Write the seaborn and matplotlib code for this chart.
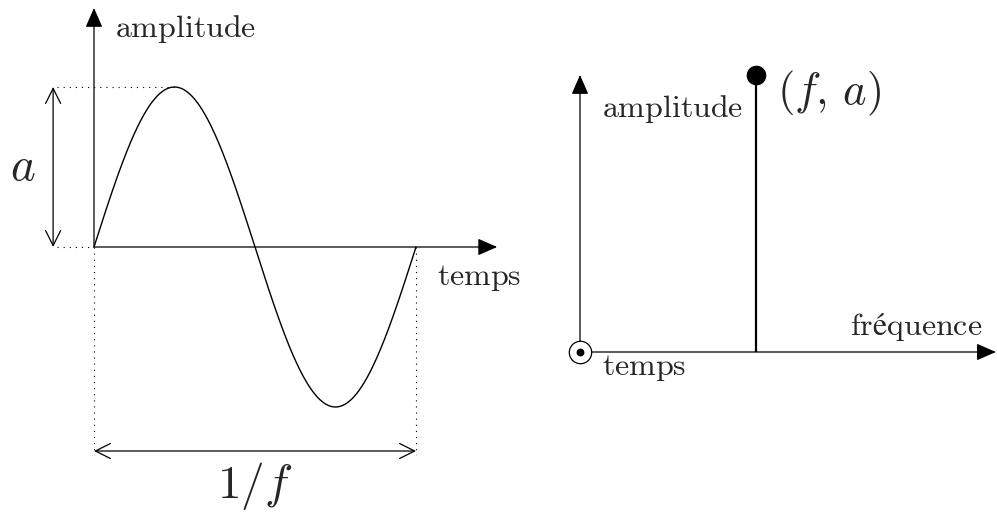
import numpy as np
import matplotlib
matplotlib.use("Agg")
import matplotlib.pyplot as plt
import seaborn as sns

sns.set_style("white")
plt.rcParams["mathtext.fontset"] = "cm"

# Signal parameters
AMPLITUDE = 1.0
FREQUENCY = 1.0
PERIOD = 1.0 / FREQUENCY

# Labels
TIME_LABEL = r"$\mathrm{temps}$"
AMP_LABEL = r"$\mathrm{amplitude}$"
FREQ_LABEL = r"$\mathrm{fréquence}$"
A_LABEL = r"$a$"
PERIOD_LABEL = r"$1/f$"
POINT_LABEL = r"$(f,\,a)$"

W, H, DPI = 997, 515, 100
fig = plt.figure(figsize=(W / DPI, H / DPI), dpi=DPI)


def panel_axes(px_left, px_right, origin, sx, sy):
    """Axes spanning a vertical strip of the figure, with data origin at a pixel position."""
    ox, oy = origin
    ax = fig.add_axes([px_left / W, 0, (px_right - px_left) / W, 1])
    ax.set_xlim((px_left - ox) / sx, (px_right - ox) / sx)
    ax.set_ylim(-(H - oy) / sy, oy / sy)
    ax.set_axis_off()
    return ax


def axis_arrow(ax, start, end, lw=0.9):
    ax.annotate("", xy=end, xytext=start,
                arrowprops=dict(arrowstyle="-|>,head_length=0.8,head_width=0.35",
                                mutation_scale=15, color="black", lw=lw,
                                shrinkA=0, shrinkB=0))


def dim_arrow(ax, start, end):
    ax.annotate("", xy=end, xytext=start,
                arrowprops=dict(arrowstyle="<->,head_length=0.6,head_width=0.3",
                                mutation_scale=18, color="black", lw=0.9,
                                shrinkA=0, shrinkB=0))


dots = (0, (1, 4.5))
TXT = 23
MATH = 34

# ---------------- time domain ----------------
axL = panel_axes(0, 530, (94, 247), 322 * FREQUENCY, 160 / AMPLITUDE)
t = np.linspace(0, PERIOD, 600)
signal = AMPLITUDE * np.sin(2 * np.pi * FREQUENCY * t)
sns.lineplot(x=t, y=signal, ax=axL, color="black", lw=1.0, sort=False)

axis_arrow(axL, (0, 0), (0, 1.494 * AMPLITUDE))
axis_arrow(axL, (0, 0), (1.252 * PERIOD, 0))

xa = -0.127 * PERIOD
axL.plot([-0.115 * PERIOD, PERIOD / 4], [AMPLITUDE, AMPLITUDE], color="black", lw=0.8, ls=dots)
axL.plot([-0.115 * PERIOD, 0], [0, 0], color="black", lw=0.8, ls=dots)
dim_arrow(axL, (xa, 0), (xa, AMPLITUDE))
axL.text(-0.22 * PERIOD, AMPLITUDE / 2, A_LABEL, fontsize=MATH, ha="center", va="center")

ybot = -1.3 * AMPLITUDE
axL.plot([0, 0], [0, ybot], color="black", lw=0.8, ls=dots)
axL.plot([PERIOD, PERIOD], [0, ybot], color="black", lw=0.8, ls=dots)
dim_arrow(axL, (0, -1.275 * AMPLITUDE), (PERIOD, -1.275 * AMPLITUDE))
axL.text(PERIOD / 2, -1.494 * AMPLITUDE, PERIOD_LABEL, fontsize=MATH, ha="center", va="center")

axL.text(0.065 * PERIOD, 1.3125 * AMPLITUDE, AMP_LABEL, fontsize=TXT, ha="left", va="baseline")
axL.text(1.065 * PERIOD, -0.2375 * AMPLITUDE, TIME_LABEL, fontsize=TXT, ha="left", va="baseline")

# ---------------- frequency domain ----------------
axR = panel_axes(530, 997, (580, 352), 176 / FREQUENCY, 277 / AMPLITUDE)
axis_arrow(axR, (0, 0), (0, 1.0 * AMPLITUDE))
axis_arrow(axR, (0, 0), (2.363 * FREQUENCY, 0))

axR.vlines(FREQUENCY, 0, AMPLITUDE, color="black", lw=1.6)
sns.scatterplot(x=[FREQUENCY], y=[AMPLITUDE], ax=axR, color="black", s=200,
                edgecolor="black", linewidth=0, zorder=5)

# time axis pointing out of the page
sns.scatterplot(x=[0], y=[0], ax=axR, s=260, facecolor="white", edgecolor="black",
                linewidth=0.9, zorder=6)
sns.scatterplot(x=[0], y=[0], ax=axR, s=32, color="black", linewidth=0, zorder=7)

axR.text(0.125 / FREQUENCY, 0.848 * AMPLITUDE, AMP_LABEL, fontsize=TXT, ha="left", va="baseline")
axR.text(1.119 * FREQUENCY, 0.895 * AMPLITUDE, POINT_LABEL, fontsize=MATH - 2, ha="left", va="baseline")
axR.text(1.534 * FREQUENCY, 0.0614 * AMPLITUDE, FREQ_LABEL, fontsize=TXT, ha="left", va="baseline")
axR.text(0.125 / FREQUENCY, -0.083 * AMPLITUDE, TIME_LABEL, fontsize=TXT, ha="left", va="baseline")

fig.savefig("out.png", dpi=DPI, facecolor="white")
